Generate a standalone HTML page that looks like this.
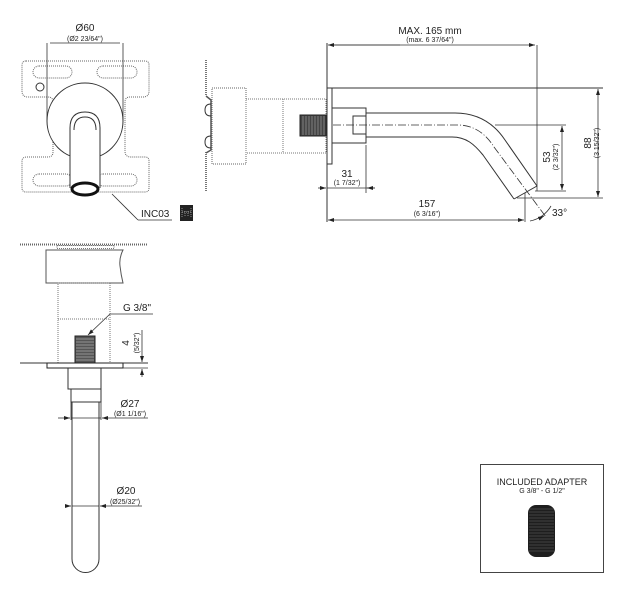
<!DOCTYPE html>
<html><head><meta charset="utf-8"><style>
html,body{margin:0;padding:0;background:#fff;}
svg{display:block;}
text{font-family:"Liberation Sans",sans-serif;fill:#222;}
</style></head><body>
<svg width="618" height="590" viewBox="0 0 618 590" xmlns="http://www.w3.org/2000/svg">
<defs>
<marker id="ah" viewBox="0 0 6 4" refX="6" refY="2" markerWidth="6" markerHeight="4" orient="auto" markerUnits="userSpaceOnUse"><path d="M0,0 L6,2 L0,4 Z" fill="#222"/></marker>
</defs>
<g fill="none" stroke="#333" stroke-width="1">

<!-- ===== FRONT VIEW ===== -->
<path d="M26,61 H145 Q149,61 149,65 V91 Q149,97 143,97 H130 Q125,97 125,102 V151 Q125,157 131,157 H145 Q149,157 149,161 V188 Q149,192 145,192 H26 Q22,192 22,188 V161 Q22,157 27,157 H48 Q53,157 53,152 V102 Q53,97 48,97 H28 Q22,97 22,91 V65 Q22,61 26,61 Z" stroke="#666" stroke-dasharray="1 1"/>
<rect x="33" y="66" width="39" height="12" rx="6" stroke="#666" stroke-dasharray="1 1"/>
<rect x="97" y="66" width="40" height="12" rx="6" stroke="#666" stroke-dasharray="1 1"/>
<rect x="33" y="174" width="39" height="12" rx="6" stroke="#666" stroke-dasharray="1 1"/>
<rect x="97" y="174" width="40" height="12" rx="6" stroke="#666" stroke-dasharray="1 1"/>
<circle cx="40" cy="87" r="4"/>
<line x1="47" y1="43" x2="47" y2="121" stroke-width="0.8"/>
<line x1="123" y1="43" x2="123" y2="121" stroke-width="0.8"/>
<circle cx="85" cy="121" r="38" fill="#fff"/>
<path d="M70,188 V128 Q70,112 85,112 Q100,112 100,128 V188" fill="#fff"/>
<path d="M74,130 Q74,117 85,117 Q96,117 96,130"/>
<ellipse cx="85" cy="189" rx="13" ry="6" stroke="#111" stroke-width="3" fill="#fff"/>
<line x1="50" y1="43" x2="120" y2="43" stroke-width="0.8"/>
<line x1="112" y1="194" x2="138" y2="220" stroke-width="0.8"/>
<line x1="138" y1="220" x2="172" y2="220" stroke-width="0.8"/>

<!-- ===== SIDE VIEW ===== -->
<line x1="206" y1="60" x2="206" y2="96" stroke="#777" stroke-width="2" stroke-dasharray="1 1"/>
<line x1="206" y1="152" x2="206" y2="192" stroke="#777" stroke-width="2" stroke-dasharray="1 1"/>
<path d="M206,96 L211,100 V150 L206,153" stroke="#555" stroke-width="1.5"/>
<path d="M211,104 Q205,104 205,110 Q205,116 211,116"/>
<path d="M211,136 Q205,136 205,142 Q205,148 211,148"/>
<rect x="212" y="88" width="34" height="76" stroke="#666" stroke-dasharray="1 1"/>
<rect x="246" y="99" width="80" height="54" stroke="#777" stroke-dasharray="1 1"/>
<line x1="283" y1="99" x2="283" y2="153" stroke="#777" stroke-dasharray="1 1"/>
<rect x="300" y="115" width="26" height="21" fill="#444" stroke="#222"/>
<g stroke="#999" stroke-width="0.7">
<line x1="303" y1="116" x2="303" y2="135"/><line x1="306" y1="116" x2="306" y2="135"/><line x1="309" y1="116" x2="309" y2="135"/><line x1="312" y1="116" x2="312" y2="135"/><line x1="315" y1="116" x2="315" y2="135"/><line x1="318" y1="116" x2="318" y2="135"/><line x1="321" y1="116" x2="321" y2="135"/><line x1="324" y1="116" x2="324" y2="135"/>
</g>
<line x1="327" y1="43" x2="327" y2="222"/>
<rect x="327" y="88" width="5" height="76" fill="#fff"/>
<rect x="332" y="108" width="34" height="35"/>
<path d="M366,116 H353 V134 H366"/>
<line x1="332" y1="88" x2="603" y2="88"/>
<!-- spout -->
<path d="M366,113 H455 C480,113 495,125 505,140 L537,186"/>
<path d="M366,137 H452 C466,137 474,144 483,155 L514,199"/>
<path d="M537,186 L514,199"/>
<path d="M333,125 H458 C474,125 486,134 494,147 L546,217" stroke-dasharray="8 2 1 2" stroke-width="0.8"/>
<!-- dims -->
<line x1="329" y1="45" x2="535" y2="45" stroke-width="0.8" marker-end="url(#ah)"/>
<line x1="400" y1="45" x2="328" y2="45" stroke-width="0.8" marker-end="url(#ah)"/>
<line x1="537" y1="45" x2="537" y2="191" stroke-width="0.8"/>
<line x1="535" y1="191" x2="566" y2="191" stroke-width="0.8"/>
<line x1="495" y1="125" x2="566" y2="125" stroke-width="0.8"/>
<line x1="562" y1="150" x2="562" y2="126" stroke-width="0.8" marker-end="url(#ah)"/>
<line x1="562" y1="150" x2="562" y2="190" stroke-width="0.8" marker-end="url(#ah)"/>
<line x1="517" y1="198" x2="603" y2="198" stroke-width="0.8"/>
<line x1="598" y1="140" x2="598" y2="89" stroke-width="0.8" marker-end="url(#ah)"/>
<line x1="598" y1="140" x2="598" y2="197" stroke-width="0.8" marker-end="url(#ah)"/>
<line x1="525" y1="193" x2="525" y2="222" stroke-width="0.8"/>
<line x1="420" y1="220" x2="328" y2="220" stroke-width="0.8" marker-end="url(#ah)"/>
<line x1="420" y1="220" x2="524" y2="220" stroke-width="0.8" marker-end="url(#ah)"/>
<line x1="366" y1="145" x2="366" y2="193" stroke-width="0.8"/>
<line x1="318" y1="188" x2="326" y2="188" stroke-width="0.8" marker-end="url(#ah)"/>
<line x1="327" y1="188" x2="375" y2="188" stroke-width="0.8"/>
<line x1="375" y1="188" x2="367" y2="188" stroke-width="0.8" marker-end="url(#ah)"/>
<path d="M530,221 A31,31 0 0 0 551,206" stroke-width="0.8"/>
<path d="M540,218 L544,216" stroke-width="0.8" marker-end="url(#ah)"/>

<!-- ===== SECTION VIEW ===== -->
<line x1="20" y1="244.5" x2="148" y2="244.5" stroke="#666" stroke-width="2" stroke-dasharray="1 1"/>
<rect x="57" y="245.5" width="57" height="3" stroke="#777" stroke-dasharray="1 1"/>
<path d="M46,250 H123 Q119,258 120,266 Q121,275 123,283 H46 Z" stroke="#555"/>
<rect x="58" y="283" width="52" height="80" stroke="#777" stroke-dasharray="1 1"/>
<line x1="58" y1="319" x2="110" y2="319" stroke="#777" stroke-dasharray="1 1"/>
<rect x="75" y="336" width="20" height="27" fill="#555" stroke="#222"/>
<g stroke="#aaa" stroke-width="0.7">
<line x1="76" y1="339" x2="94" y2="339"/><line x1="76" y1="342" x2="94" y2="342"/><line x1="76" y1="345" x2="94" y2="345"/><line x1="76" y1="348" x2="94" y2="348"/><line x1="76" y1="351" x2="94" y2="351"/><line x1="76" y1="354" x2="94" y2="354"/><line x1="76" y1="357" x2="94" y2="357"/><line x1="76" y1="360" x2="94" y2="360"/>
</g>
<line x1="20" y1="363" x2="148" y2="363"/>
<rect x="47" y="363" width="76" height="5" stroke="#222"/>
<line x1="123" y1="368" x2="148" y2="368" stroke-width="0.8"/>
<line x1="110" y1="314" x2="153" y2="314" stroke-width="0.8"/>
<line x1="110" y1="314" x2="88" y2="335" stroke-width="0.8" marker-end="url(#ah)"/>
<line x1="142" y1="330" x2="142" y2="362" stroke-width="0.8" marker-end="url(#ah)"/>
<line x1="142" y1="377" x2="142" y2="369" stroke-width="0.8" marker-end="url(#ah)"/>
<path d="M68,368 V389 H101 V368"/>
<path d="M71,389 V402 H101 V389"/>
<path d="M72,402 V559 A13.5,13.5 0 0 0 99,559 V402"/>
<line x1="71" y1="402" x2="71" y2="420" stroke-width="0.8"/>
<line x1="101" y1="402" x2="101" y2="420" stroke-width="0.8"/>
<line x1="58" y1="418" x2="70" y2="418" stroke-width="0.8" marker-end="url(#ah)"/>
<line x1="71" y1="418" x2="101" y2="418" stroke-width="0.8"/>
<line x1="148" y1="418" x2="102" y2="418" stroke-width="0.8" marker-end="url(#ah)"/>
<line x1="65" y1="506" x2="71" y2="506" stroke-width="0.8" marker-end="url(#ah)"/>
<line x1="72" y1="506" x2="99" y2="506" stroke-width="0.8"/>
<line x1="142" y1="506" x2="100" y2="506" stroke-width="0.8" marker-end="url(#ah)"/>

<!-- ===== ADAPTER BOX ===== -->
<rect x="480.5" y="464.5" width="123" height="108" stroke="#444"/>
</g>

<!-- INC03 icon -->
<rect x="180" y="205" width="13" height="16" fill="#222"/>
<path d="M182,208 V218 M191,208 V218 M182,212 H191 M185,211 V216 M188,211 V216" stroke="#bbb" stroke-width="0.7" fill="none" stroke-dasharray="1 1"/>

<!-- adapter -->
<rect x="528" y="505" width="27" height="52" rx="8" fill="#1e1e1e"/>
<g stroke="#666" stroke-width="0.6">
<line x1="529" y1="509" x2="554" y2="509"/><line x1="529" y1="512" x2="554" y2="512"/><line x1="529" y1="515" x2="554" y2="515"/><line x1="529" y1="518" x2="554" y2="518"/><line x1="529" y1="521" x2="554" y2="521"/><line x1="529" y1="524" x2="554" y2="524"/><line x1="529" y1="527" x2="554" y2="527"/><line x1="529" y1="530" x2="554" y2="530"/><line x1="529" y1="533" x2="554" y2="533"/><line x1="529" y1="536" x2="554" y2="536"/><line x1="529" y1="539" x2="554" y2="539"/><line x1="529" y1="542" x2="554" y2="542"/><line x1="529" y1="545" x2="554" y2="545"/><line x1="529" y1="548" x2="554" y2="548"/><line x1="529" y1="551" x2="554" y2="551"/>
</g>

<!-- TEXT -->
<g text-anchor="middle">
<text x="85" y="31" font-size="10">Ø60</text>
<text x="85" y="41" font-size="7">(Ø2 23/64")</text>
<text x="430" y="34" font-size="10">MAX. 165 mm</text>
<text x="430" y="42" font-size="7">(max. 6 37/64")</text>
<text x="347" y="177" font-size="10">31</text>
<text x="347" y="185" font-size="7">(1 7/32")</text>
<text x="427" y="207" font-size="10">157</text>
<text x="427" y="216" font-size="7">(6 3/16")</text>
<text x="130" y="407" font-size="10">Ø27</text>
<text x="130" y="416" font-size="7">(Ø1 1/16")</text>
<text x="126" y="494" font-size="10">Ø20</text>
<text x="125" y="504" font-size="7">(Ø25/32")</text>
<text x="542" y="485" font-size="9">INCLUDED ADAPTER</text>
<text x="542" y="493" font-size="7">G 3/8" - G 1/2"</text>
<text transform="translate(550,157) rotate(-90)" font-size="10">53</text>
<text transform="translate(558,157) rotate(-90)" font-size="7">(2 3/32")</text>
<text transform="translate(591,143) rotate(-90)" font-size="10">88</text>
<text transform="translate(599,143) rotate(-90)" font-size="7">(3 15/32")</text>
<text transform="translate(129,343) rotate(-90)" font-size="10">4</text>
<text transform="translate(139,343) rotate(-90)" font-size="7">(5/32")</text>
</g>
<text x="552" y="216" font-size="10">33°</text>
<text x="141" y="217" font-size="10">INC03</text>
<text x="123" y="311" font-size="10">G 3/8"</text>
</svg>
</body></html>
